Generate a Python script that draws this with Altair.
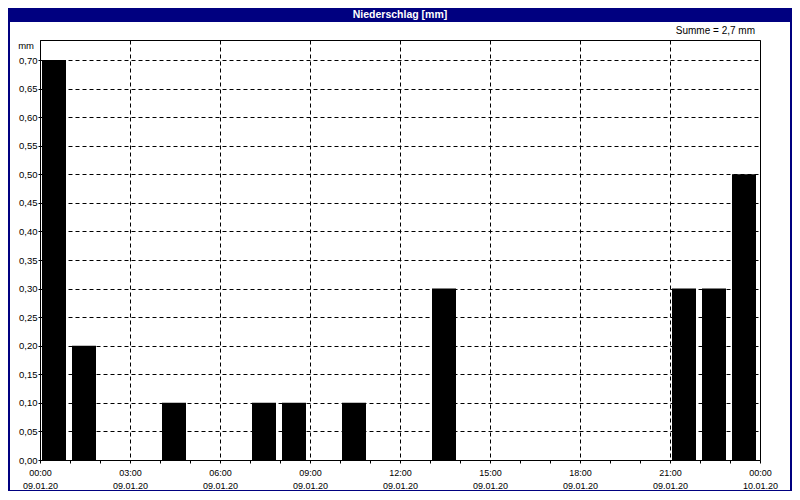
import json
import altair as alt
import pandas as pd

# ---- data ----
hours = list(range(24))
precip = [0.70, 0.20, 0.0, 0.0, 0.10, 0.0, 0.0, 0.10, 0.10, 0.0, 0.10, 0.0,
          0.0, 0.30, 0.0, 0.0, 0.0, 0.0, 0.0, 0.0, 0.0, 0.30, 0.30, 0.50]
x_label_times = ["00:00", "03:00", "06:00", "09:00", "12:00", "15:00", "18:00", "21:00", "00:00"]
x_label_dates = ["09.01.20", "09.01.20", "09.01.20", "09.01.20", "09.01.20",
                 "09.01.20", "09.01.20", "09.01.20", "10.01.20"]
y_tick_values = [0.00, 0.05, 0.10, 0.15, 0.20, 0.25, 0.30, 0.35, 0.40, 0.45, 0.50, 0.55, 0.60, 0.65, 0.70]
title_text = "Niederschlag [mm]"
unit_text = "mm"
sum_text = "Summe = 2,7 mm"

df = pd.DataFrame({"hour": hours, "value": precip})
df = df[df["value"] > 0]

FONT = "Liberation Sans"
NAVY = "#000080"

times_js = json.dumps(x_label_times)
dates_js = json.dumps(x_label_dates)
x_label_expr = (f"datum.value % 3 == 0 ? [{times_js}[datum.value / 3], {dates_js}[datum.value / 3]] : ''")

x_scale = alt.Scale(domain=[0, 24], nice=False, zero=False)
y_scale = alt.Scale(domain=[0, 0.735], nice=False)

bars = alt.Chart(df).transform_calculate(
    hour_end="datum.hour + 1"
).mark_rect(color="#000000", xOffset=2, x2Offset=-4).encode(
    x=alt.X("hour:Q", scale=x_scale, title=None,
            axis=alt.Axis(values=list(range(25)), labelExpr=x_label_expr,
                          labelOverlap=False, labelBound=False, labelFlush=False,
                          labelFont=FONT, labelFontSize=9, labelColor="#000",
                          labelLineHeight=13.5, labelPadding=5, labelBaseline="top",
                          tickSize=3, tickColor="#000", domainColor="#000",
                          grid=True, gridColor="#000", gridDash=[4, 3],
                          gridOpacity={"condition": {"test": "datum.value % 3 == 0", "value": 1}, "value": 0})),
    x2="hour_end:Q",
    y=alt.Y("value:Q", scale=y_scale, title=None,
            axis=alt.Axis(values=y_tick_values,
                          labelExpr="replace(format(datum.value, '.2f'), '.', ',')",
                          labelFont=FONT, labelFontSize=9.5, labelColor="#000",
                          labelPadding=1, tickSize=2, tickColor="#000", domainColor="#000",
                          grid=True, gridColor="#000", gridDash=[4, 3])),
    y2=alt.datum(0),
)

one = alt.Data(values=[{"k": 1}])

title_bar = alt.Chart(one).mark_rect(fill=NAVY).encode(
    x=alt.value(-32), x2=alt.value(752), y=alt.value(-32), y2=alt.value(-18)
)
title_label = alt.Chart(one).mark_text(
    text=title_text, color="white", font=FONT, fontSize=10.5, fontWeight="bold",
    align="center", baseline="middle"
).encode(x=alt.value(360), y=alt.value(-25))

border = alt.Chart(one).mark_rect(filled=False, stroke=NAVY, strokeWidth=2).encode(
    x=alt.value(-31), x2=alt.value(751), y=alt.value(-31), y2=alt.value(451)
)

unit_label = alt.Chart(one).mark_text(
    text=unit_text, color="#000", font=FONT, fontSize=9.5, align="right", baseline="middle"
).encode(x=alt.value(-6), y=alt.value(6))

sum_label = alt.Chart(one).mark_text(
    text=sum_text, color="#000", font=FONT, fontSize=10, align="right", baseline="middle"
).encode(x=alt.value(715), y=alt.value(-9))

chart = alt.layer(bars, title_bar, title_label, border, unit_label, sum_label).properties(
    width=720, height=420,
    autosize=alt.AutoSizeParams(type="none"),
    padding={"left": 32, "top": 32, "right": 32, "bottom": 31},
    background="white",
).configure_view(stroke="#000", strokeWidth=1)

chart.save("out.html", embed_options={"renderer": "svg", "actions": False})
